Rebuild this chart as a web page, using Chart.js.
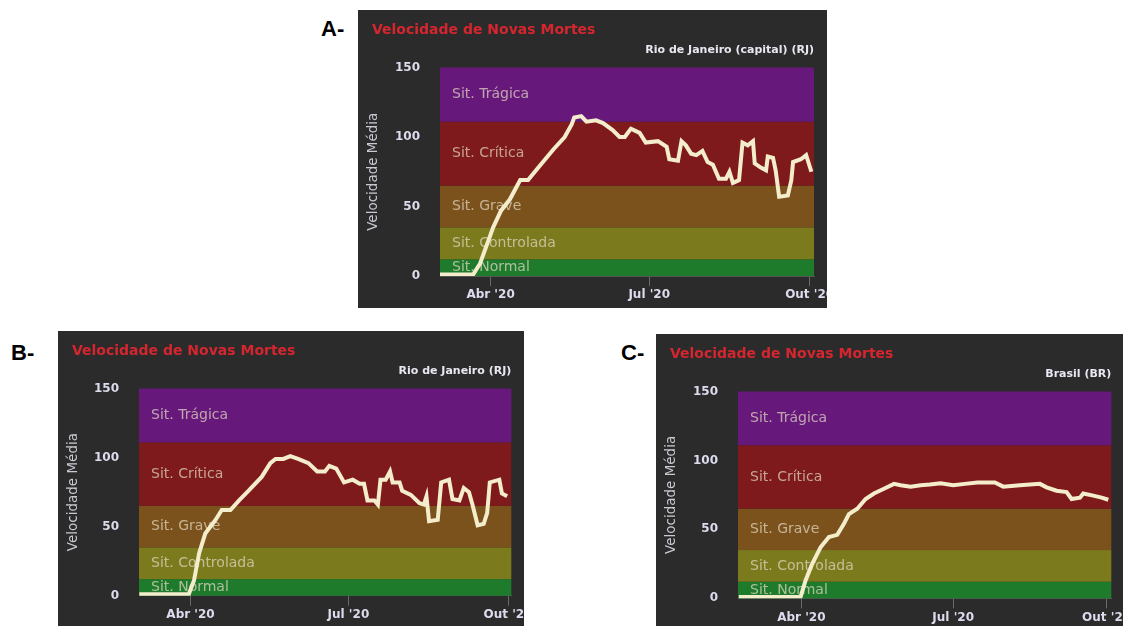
<!DOCTYPE html>
<html lang="pt-BR">
<head>
<meta charset="utf-8">
<title>Velocidade de Novas Mortes</title>
<script src="https://cdn.jsdelivr.net/npm/chart.js@4.4.1/dist/chart.umd.min.js"></script>
<style>
  html, body { margin: 0; padding: 0; background: #fff; width: 1123px; height: 626px; overflow: hidden; }
  .painel { position: absolute; background: #2b2b2b; overflow: hidden; }
  .painel canvas { position: absolute; left: 0; top: 0; }
  .letra { position: absolute; font: bold 22px "Liberation Sans", Arial, sans-serif; color: #000; }
</style>
</head>
<body>
<div class="letra" style="left:321px; top:16px">A-</div>
<div class="letra" style="left:11px; top:340px">B-</div>
<div class="letra" style="left:621px; top:340px">C-</div>

<div class="painel" style="left:358px; top:10px; width:469px; height:298px"><canvas id="graficoA"></canvas></div>
<div class="painel" style="left:58px; top:331px; width:466px; height:295px"><canvas id="graficoB"></canvas></div>
<div class="painel" style="left:656px; top:334px; width:470px; height:292px"><canvas id="graficoC"></canvas></div>

<script>
// Dias contados a partir de 1 de fevereiro de 2020 (1/abr = 60, 1/jul = 151, 1/out = 243)
const ticksX = [60, 151, 243];
const rotulosX = ["Abr '20", "Jul '20", "Out '20"];
const ticksY = [0, 50, 100, 150];

// Faixas de situação (limites em velocidade média)
const faixasNomes = ["Sit. Normal", "Sit. Controlada", "Sit. Grave", "Sit. Crítica", "Sit. Trágica"];
const faixasInicio = [0, 12, 35, 65, 111];
const faixasFim = [12, 35, 65, 111, 150];
const faixasCores = ["#1e7b2b", "#7b7a1d", "#7b521b", "#7e1a1b", "#67197b"];

// A - Rio de Janeiro (capital)
const diasA = [31, 50, 54, 61.5, 66, 71, 77, 81.5, 88, 96, 102.5, 106.5, 108, 112, 115, 120.5, 124.5, 130, 134, 137,
  140.5, 145.5, 149, 156, 161, 162.5, 167.5, 169.5, 172, 175, 178, 181.5, 184.5, 187.5, 191, 195, 197, 199, 202.5, 204.5,
  207.5, 210.5, 211.5, 215, 218, 219, 222, 223.5, 225.5, 230.5, 232.5, 233.5, 238, 241, 244];
const valoresA = [1, 1, 9, 35, 47, 55, 69, 69, 79, 91, 100, 109, 114, 115, 111, 112, 110, 105, 100, 100,
  106, 103, 96, 97, 93, 84, 83, 97, 94, 88, 87, 90, 82, 80, 70, 70, 75, 67, 69, 96,
  94, 97, 81, 78, 76, 86, 85, 76, 57, 58, 69, 82, 84, 87, 75];

// B - Rio de Janeiro (estado)
const diasB = [30.5, 59, 62, 65, 68.5, 74.5, 78, 83, 88, 93.5, 101, 106, 109, 113.5, 117.5, 122, 128, 133, 137.5, 140,
  144, 148.5, 153.5, 157.5, 160, 162, 166, 168, 169.5, 172.5, 175, 176.5, 180.5, 182, 187, 192, 194.5, 196, 197.5, 202.5,
  204.5, 209, 211, 215, 217.5, 220.5, 222.5, 225.5, 229, 231, 232.5, 238, 239.5, 242.5];
const valoresB = [1, 1, 11, 31, 45, 55, 62, 62, 69, 76, 86, 96, 99, 99, 101, 99, 96, 90, 90, 94,
  92, 82, 84, 81, 81, 69, 69, 66, 84, 84, 90, 82, 82, 76, 73, 67, 66, 72, 54, 55,
  82, 84, 70, 69, 78, 75, 66, 51, 52, 60, 82, 84, 74, 72];

// C - Brasil
const diasC = [22.5, 59.5, 62.5, 66.5, 71.5, 76.5, 81.5, 85.5, 88.5, 93.5, 98.5, 103.5, 109.5, 115.5, 119.5, 125.5, 131.5, 137,
  143.5, 151, 158, 165.5, 176, 181, 191, 203, 207, 213, 219, 222, 227, 229, 235, 240, 244];
const valoresC = [1, 1, 13, 25, 37, 44.5, 46, 54, 61, 65, 72, 76, 79.5, 83, 82, 81, 82, 82.5,
  83.5, 82, 83, 84, 84, 81, 82, 83, 80.5, 78, 77, 72, 73, 76, 74.5, 73, 71.5];

const fonte = '"DejaVu Sans", Verdana, sans-serif';

// Desenha as faixas coloridas e seus nomes por baixo da linha
const faixasPlugin = {
  id: "faixas",
  beforeDatasetsDraw(chart) {
    const { ctx, chartArea, scales } = chart;
    const y = scales.y;
    ctx.save();
    faixasInicio.forEach((ini, i) => {
      const topo = y.getPixelForValue(faixasFim[i]);
      const base = y.getPixelForValue(ini);
      ctx.fillStyle = faixasCores[i];
      ctx.fillRect(chartArea.left, topo, chartArea.right - chartArea.left, base - topo);
      ctx.fillStyle = "rgba(226, 216, 196, 0.72)";
      ctx.font = "14px " + fonte;
      ctx.textBaseline = "middle";
      ctx.textAlign = "left";
      ctx.fillText(faixasNomes[i], chartArea.left + 12, (topo + base) / 2);
    });
    ctx.restore();
  },
};

function criarGrafico(id, local, dias, valores, geo) {
  const canvas = document.getElementById(id);
  canvas.width = geo.largura;
  canvas.height = geo.altura;

  return new Chart(canvas.getContext("2d"), {
    type: "line",
    data: {
      datasets: [
        {
          data: dias.map((d, i) => ({ x: d, y: valores[i] })),
          borderColor: "#f4edcb",
          borderWidth: 4,
          pointRadius: 0,
          tension: 0,
          fill: false,
        },
      ],
    },
    options: {
      responsive: false,
      animation: false,
      devicePixelRatio: 1,
      layout: { padding: { left: 14, right: geo.padDir, top: 0, bottom: 0 } },
      scales: {
        x: {
          type: "linear",
          min: geo.min,
          max: geo.max,
          afterBuildTicks: (s) => { s.ticks = ticksX.map((v) => ({ value: v })); },
          afterFit: (s) => { s.height = geo.eixoX; s.paddingLeft = 0; s.paddingRight = 0; },
          grid: { drawOnChartArea: false, drawTicks: true, tickLength: 10, color: "#6a6a6a" },
          border: { display: true, color: "#555" },
          ticks: {
            color: "#dcdcee",
            font: { family: fonte, size: 12, weight: "bold" },
            padding: 2,
            maxRotation: 0,
            autoSkip: false,
            callback: (v, i) => rotulosX[i],
          },
        },
        y: {
          min: 0,
          max: 150,
          afterBuildTicks: (s) => { s.ticks = ticksY.map((v) => ({ value: v })); },
          afterFit: (s) => { s.width = geo.eixoY; },
          grid: { display: false, drawTicks: false },
          border: { display: false },
          ticks: { color: "#dcdcee", font: { family: fonte, size: 12, weight: "bold" }, padding: 20 },
          title: {
            display: true,
            text: "Velocidade Média",
            color: "#c9c9d2",
            font: { family: fonte, size: 13.5, lineHeight: 1 },
            padding: { top: -5.5, bottom: 0 },
          },
        },
      },
      plugins: {
        legend: { display: false },
        tooltip: { enabled: false },
        title: {
          display: true,
          text: "Velocidade de Novas Mortes",
          align: "start",
          color: "#d5262f",
          font: { family: fonte, size: 14, weight: "bold", lineHeight: 1 },
          padding: { top: 13, bottom: 0 },
        },
        subtitle: {
          display: true,
          text: local,
          align: "end",
          color: "#e8e8f2",
          font: { family: fonte, size: 11, weight: "bold", lineHeight: 1 },
          padding: { top: 8, bottom: 11.5 },
        },
      },
    },
    plugins: [faixasPlugin],
  });
}

criarGrafico("graficoA", "Rio de Janeiro (capital) (RJ)", diasA, valoresA,
  { largura: 469, altura: 298, padDir: 13, eixoY: 68, eixoX: 32, min: 31, max: 245.5 });
criarGrafico("graficoB", "Rio de Janeiro (RJ)", diasB, valoresB,
  { largura: 466, altura: 295, padDir: 12.7, eixoY: 67, eixoX: 30.3, min: 30.3, max: 244.9 });
criarGrafico("graficoC", "Brasil (BR)", diasC, valoresC,
  { largura: 470, altura: 292, padDir: 14.7, eixoY: 68, eixoX: 27.7, min: 22, max: 245.8 });
</script>
</body>
</html>
